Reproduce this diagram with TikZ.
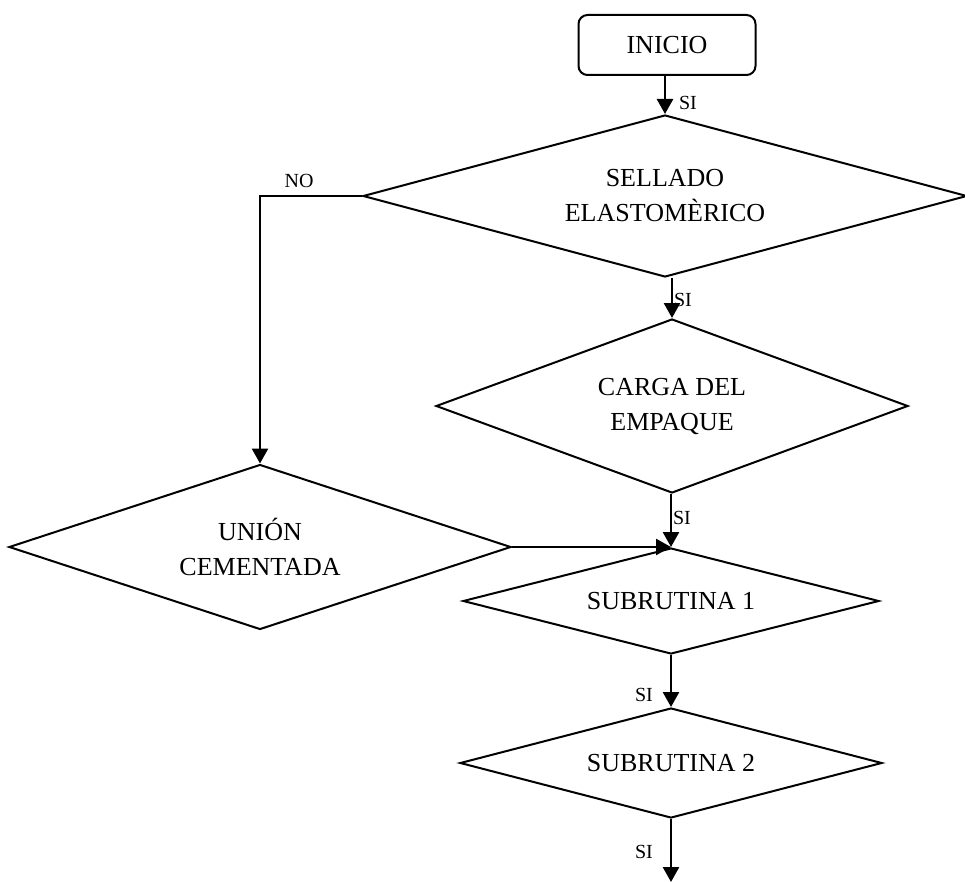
\documentclass[tikz,border=0pt]{standalone}
\usepackage{fontspec}
\setmainfont{Liberation Serif}
\usetikzlibrary{shapes.geometric,arrows.meta}
\begin{document}
\begin{tikzpicture}[x=1pt,y=-1pt,
  boxtext/.style={font=\fontsize{26}{35}\selectfont, align=center},
  startbox/.style={boxtext, draw, line width=2pt, rounded corners=9pt,
    minimum width=177pt, minimum height=60pt, inner sep=0pt},
  decision/.style={boxtext, draw, diamond, line width=2pt, inner sep=0pt},
  flow/.style={line width=2.6pt, -{Triangle[width=16pt,length=15pt]}},
  tag/.style={font=\fontsize{20}{22}\selectfont, inner sep=0pt}]
\useasboundingbox (0,0) rectangle (965,882);

% process steps
\node[startbox] (inicio) at (667,45) {INICIO};
\node[decision, aspect=3.7, minimum width=604pt, minimum height=162pt] (sellado) at (665,196)
  {SELLADO\\ELASTOMÈRICO};
\node[decision, aspect=2.7, minimum width=472pt, minimum height=174pt] (carga) at (672,406)
  {CARGA DEL\\EMPAQUE};
\node[decision, aspect=3.0, minimum width=502pt, minimum height=165pt] (union) at (260,547)
  {UNIÓN\\CEMENTADA};
\node[decision, aspect=3.9, minimum width=416pt, minimum height=106pt] (sub1) at (671,601)
  {SUBRUTINA 1};
\node[decision, aspect=3.8, minimum width=422pt, minimum height=110pt] (sub2) at (671,763)
  {SUBRUTINA 2};
\coordinate (fin) at (671,882);

% connectors
\draw[flow] (inicio.south -| sellado.north) -- (sellado.north);
\draw[flow] (sellado.south -| carga.north) -- (carga.north);
\draw[flow] (carga.south -| sub1.north) -- (sub1.north);
\draw[flow] (sellado.west) -| (union.north);
\draw[flow] (union.east) -- (sub1.north);
\draw[flow] (sub1.south) -- (sub2.north);
\draw[flow] (sub2.south) -- (fin);

% branch labels
\node[tag] (si1) at (688,103) {SI};
\node[tag] (si2) at (683,300) {SI};
\node[tag] (si3) at (682,518) {SI};
\node[tag] (no1) at (299,181) {NO};
\node[tag] (si4) at (644,695) {SI};
\node[tag] (si5) at (644,852) {SI};
\end{tikzpicture}
\end{document}
